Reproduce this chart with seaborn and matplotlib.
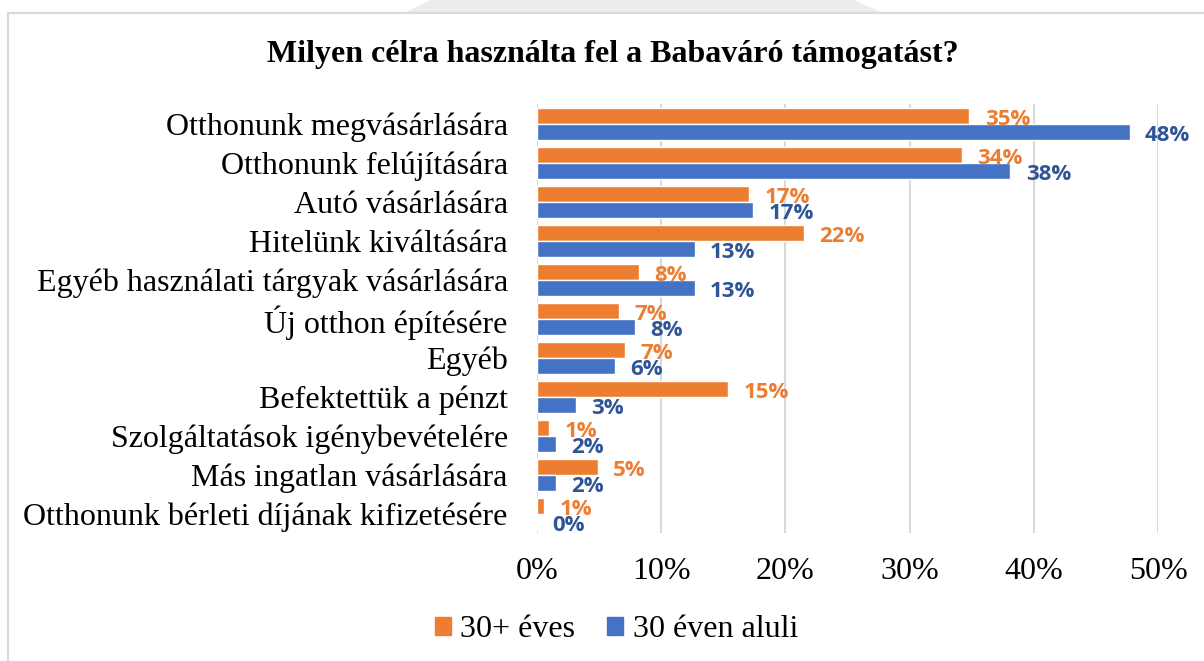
import numpy as np
import pandas as pd
import matplotlib
matplotlib.use("Agg")
import matplotlib.pyplot as plt
import seaborn as sns
from matplotlib.lines import Line2D
from matplotlib.patches import Patch, Polygon

# Adatok (leolvasva az ábráról)
categories = [
    "Otthonunk megvásárlására",
    "Otthonunk felújítására",
    "Autó vásárlására",
    "Hitelünk kiváltására",
    "Egyéb használati tárgyak vásárlására",
    "Új otthon építésére",
    "Egyéb",
    "Befektettük a pénzt",
    "Szolgáltatások igénybevételére",
    "Más ingatlan vásárlására",
    "Otthonunk bérleti díjának kifizetésére",
]
over30 = [34.8, 34.2, 17.1, 21.5, 8.2, 6.6, 7.1, 15.4, 1.0, 4.9, 0.6]
under30 = [47.7, 38.1, 17.4, 12.7, 12.7, 7.9, 6.3, 3.1, 1.5, 1.5, 0.0]
series_names = ["30+ éves", "30 éven aluli"]
x_ticks = [0, 10, 20, 30, 40, 50]

orange = "#ED7D31"
blue = "#4472C4"
label_colors = [orange, "#2F5597"]

df = pd.DataFrame({
    "kategoria": categories * 2,
    "ertek": over30 + under30,
    "csoport": [series_names[0]] * len(categories) + [series_names[1]] * len(categories),
})

sns.set_theme(style="white")
plt.rcParams["font.family"] = ["Liberation Serif", "DejaVu Serif"]
plt.rcParams["text.color"] = "black"
plt.rcParams["xtick.color"] = "black"
plt.rcParams["ytick.color"] = "black"

fig = plt.figure(figsize=(12.04, 6.61), dpi=100)
ax = fig.add_axes([0.446, 0.193, 0.516, 0.649])

sns.barplot(data=df, y="kategoria", x="ertek", hue="csoport", orient="h",
            palette=[orange, blue], width=0.82, saturation=1, legend=False, ax=ax)

ax.set_xlim(0, 50)
ax.set_ylim(len(categories) - 0.5, -0.5)
ax.set_xticks(x_ticks)
ax.set_xticklabels([f"{t}%" for t in x_ticks], fontsize=23)
ax.tick_params(axis="x", pad=17, length=0, colors="black")
ax.tick_params(axis="y", pad=21, length=0, labelsize=23, colors="black")
ax.set_xlabel("")
ax.set_ylabel("")
ax.grid(axis="x", color="#d9d9d9", linewidth=1.5)
ax.set_axisbelow(True)
for s in ax.spines.values():
    s.set_visible(False)

# Adatcímkék (kicsit lejjebb, a sáv közepére)
for i, cont in enumerate(ax.containers):
    labels = [f"{v.get_width():.0f}%" for v in cont]
    texts = ax.bar_label(cont, labels=labels, padding=11, color=label_colors[i],
                         fontsize=16, fontweight="bold", family="Open Sans")
    for t in texts:
        dx, dy = t.xyann
        t.xyann = (dx, dy - 2.5)

fig.text(0.509, 0.917, "Milyen célra használta fel a Babaváró támogatást?",
         ha="center", va="center", fontsize=23, fontweight="bold", color="black")

handles = [Patch(color=orange), Patch(color=blue)]
fig.legend(handles, series_names, loc="center", bbox_to_anchor=(0.512, 0.047), ncol=2,
           frameon=False, fontsize=23, handlelength=0.5, handleheight=0.5,
           handletextpad=0.3, columnspacing=1.0)

# Halvány szürke folt a keret felett
fig.add_artist(Polygon([(405 / 1204, 0.981), (882 / 1204, 0.981), (854 / 1204, 1.0), (431 / 1204, 1.0)],
                       closed=True, transform=fig.transFigure, facecolor="#ececec", edgecolor="none"))

# Külső keret (bal és felső szél)
fig.add_artist(Line2D([0.007, 0.007], [0, 0.981], color="#d9d9d9", linewidth=1.5))
fig.add_artist(Line2D([0.007, 1], [0.981, 0.981], color="#d9d9d9", linewidth=1.5))

fig.savefig("out.png", dpi=100)
